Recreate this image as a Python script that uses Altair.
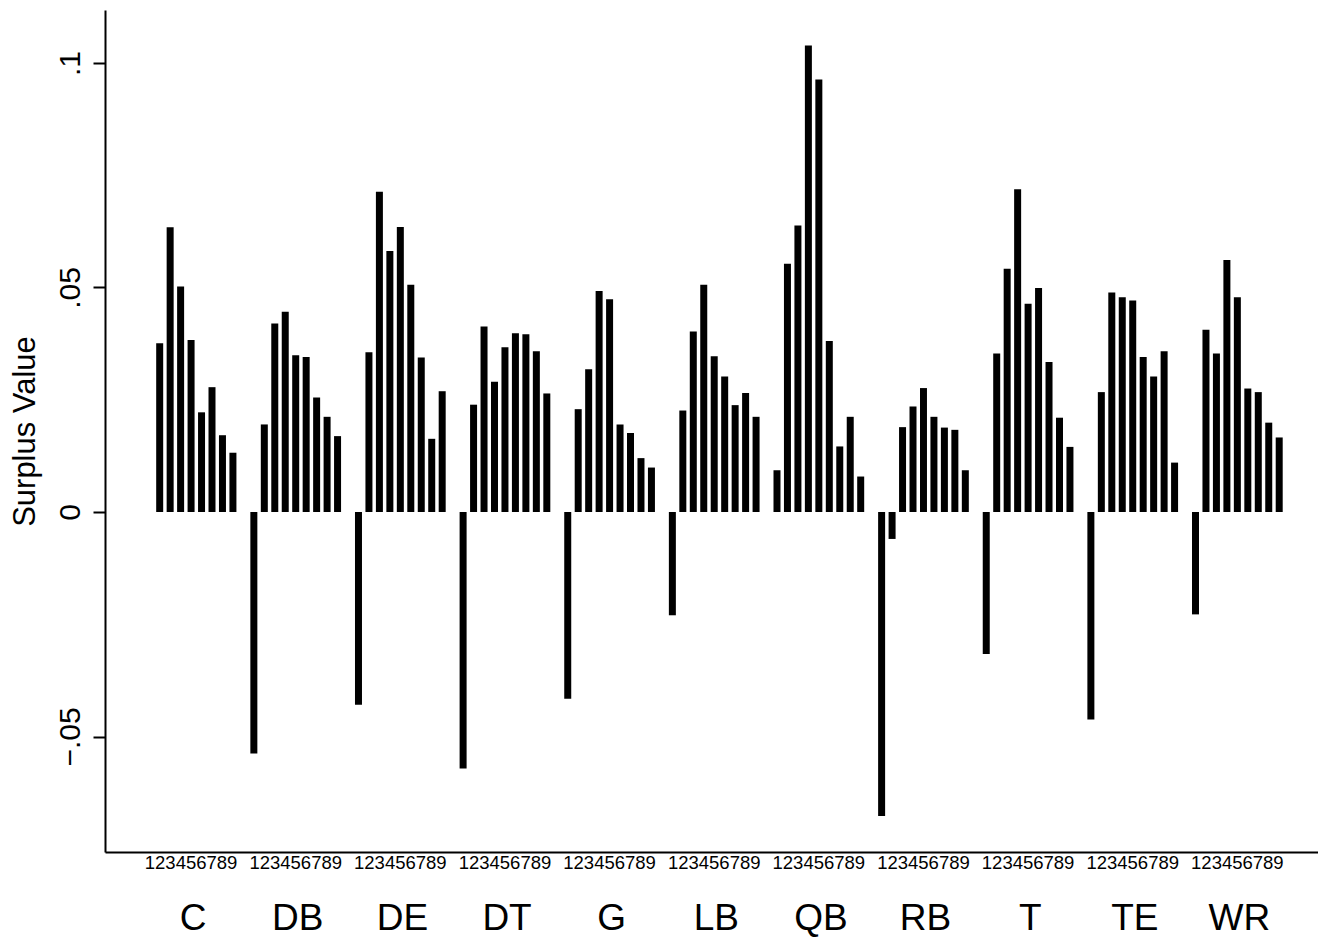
import altair as alt
import pandas as pd

groups = ["C", "DB", "DE", "DT", "G", "LB", "QB", "RB", "T", "TE", "WR"]
rounds = [1, 2, 3, 4, 5, 6, 7, 8, 9]
round_label = "123456789"

C = [None, 0.0376, 0.0634, 0.0502, 0.0383, 0.0222, 0.0278, 0.0171, 0.0132]
DB = [-0.0538, 0.0195, 0.0420, 0.0446, 0.0349, 0.0345, 0.0255, 0.0212, 0.0169]
DE = [-0.0429, 0.0356, 0.0713, 0.0581, 0.0635, 0.0506, 0.0344, 0.0163, 0.0269]
DT = [-0.0571, 0.0239, 0.0413, 0.0290, 0.0367, 0.0398, 0.0396, 0.0358, 0.0264]
G = [-0.0416, 0.0229, 0.0318, 0.0492, 0.0474, 0.0195, 0.0176, 0.0120, 0.0099]
LB = [-0.0230, 0.0226, 0.0402, 0.0506, 0.0347, 0.0302, 0.0238, 0.0265, 0.0212]
QB = [0.0093, 0.0553, 0.0638, 0.1039, 0.0963, 0.0381, 0.0146, 0.0212, 0.0079]
RB = [-0.0677, -0.0060, 0.0189, 0.0235, 0.0276, 0.0212, 0.0188, 0.0183, 0.0093]
T = [-0.0316, 0.0353, 0.0542, 0.0719, 0.0464, 0.0499, 0.0334, 0.0210, 0.0145]
TE = [-0.0462, 0.0267, 0.0489, 0.0478, 0.0471, 0.0345, 0.0302, 0.0358, 0.0110]
WR = [-0.0228, 0.0406, 0.0353, 0.0561, 0.0478, 0.0275, 0.0267, 0.0199, 0.0166]

series = [C, DB, DE, DT, G, LB, QB, RB, T, TE, WR]

rows = []
for gi, (g, vals) in enumerate(zip(groups, series)):
    for r, v in zip(rounds, vals):
        rows.append({"group": g, "gi": gi, "round": r, "value": v})
bars_df = pd.DataFrame(rows)
labels_df = pd.DataFrame({"group": groups, "gi": list(range(len(groups))), "rl": [round_label] * len(groups)})

FONT = "Liberation Sans"
W, H = 1213, 842
xscale = alt.Scale(domain=[-2.749, 112.23], nice=False, zero=False)

bars = alt.Chart(bars_df).transform_calculate(
    pos="datum.gi * 10 + datum.round"
).mark_bar(size=7, color="black").encode(
    x=alt.X("pos:Q", scale=xscale,
            axis=alt.Axis(labels=False, ticks=False, grid=False, title=None,
                          domainColor="black", domainWidth=2)),
    y=alt.Y("value:Q",
            scale=alt.Scale(domain=[-0.07572, 0.1118], nice=False),
            axis=alt.Axis(values=[-0.05, 0, 0.05, 0.1], grid=False,
                          labelExpr="datum.value == 0 ? '0' : replace(format(datum.value, '.2~f'), '0.', '.')",
                          labelAngle=270, labelFontSize=30, labelFont=FONT, labelColor="black",
                          labelPadding=8, tickSize=12, tickWidth=2, tickColor="black",
                          domainColor="black", domainWidth=2,
                          title="Surplus Value", titleFontSize=31, titleFont=FONT,
                          titleFontWeight="normal", titleColor="black", titlePadding=14)),
)

round_text = alt.Chart(labels_df).transform_calculate(
    pos="datum.gi * 10 + 5"
).mark_text(font=FONT, fontSize=18.5, color="black", baseline="middle", align="center").encode(
    x=alt.X("pos:Q", scale=xscale),
    y=alt.value(H + 11),
    text="rl:N",
)

group_text = alt.Chart(labels_df).transform_calculate(
    pos="datum.gi * 10 + 5.2"
).mark_text(font=FONT, fontSize=37, color="black", baseline="middle", align="center").encode(
    x=alt.X("pos:Q", scale=xscale),
    y=alt.value(H + 67),
    text="group:N",
)

chart = alt.layer(bars, round_text, group_text).properties(
    width=W, height=H,
    autosize=alt.AutoSizeParams(type="none"),
    padding={"left": 97, "top": 2, "right": 0, "bottom": 91},
    background="white",
).configure_view(stroke=None)

chart.save("out.html", embed_options={"renderer": "svg", "actions": False})
